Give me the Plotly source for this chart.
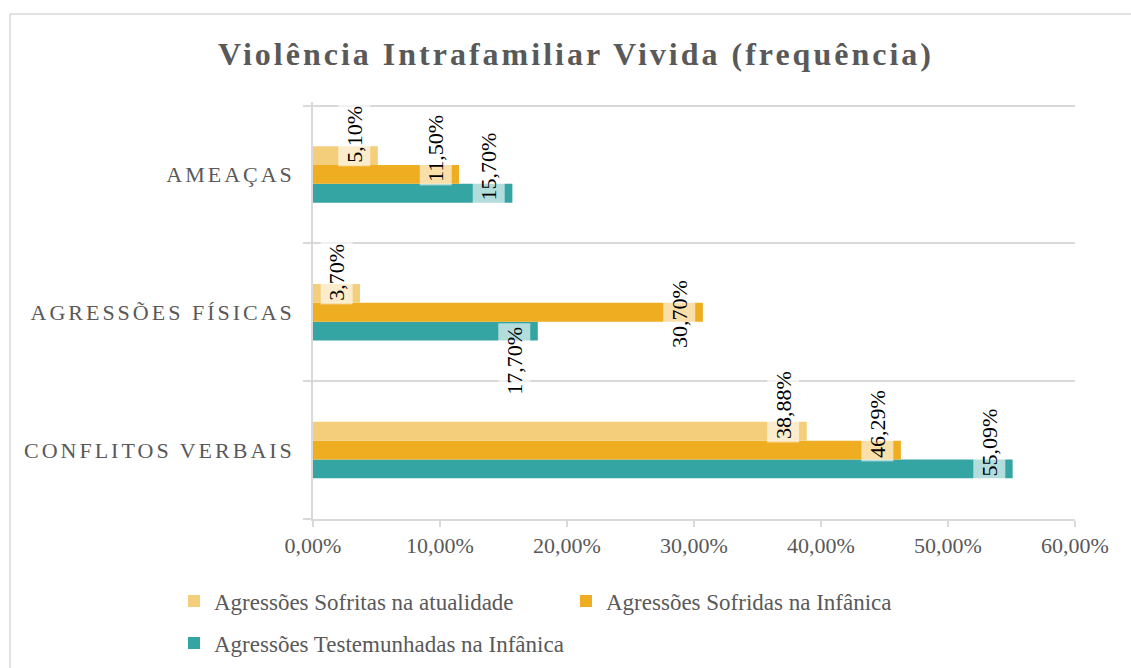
import plotly.graph_objects as go

# ---- data ----
categories = ["CONFLITOS VERBAIS", "AGRESSÕES FÍSICAS", "AMEAÇAS"]
series_names = [
    "Agressões Testemunhadas na Infânica",
    "Agressões Sofridas na Infânica",
    "Agressões Sofritas na atualidade",
]
testemunhadas_infancia = [55.09, 17.70, 15.70]
sofridas_infancia = [46.29, 30.70, 11.50]
sofridas_atualidade = [38.88, 3.70, 5.10]
x_ticks = [0, 10, 20, 30, 40, 50, 60]

# ---- style ----
colors = ["#35A5A3", "#EFAD21", "#F4CE7A"]
legend_rank = [3, 2, 1]
legend_ref = ["legend2", "legend", "legend"]
# extra downward nudge (px) of a few value labels, as in the original
label_nudge = [[0, 56, 0], [0, 28, 0], [0, 0, 0]]

W, H = 1131, 668
ML, MR, MT, MB = 313, 56, 102, 149
PW, PH = W - ML - MR, H - MT - MB
FONT = "Liberation Serif, Times New Roman, serif"
GREY = "#595959"
LINE = "#D9D9D9"
BARGAP = 0.59

series_values = [testemunhadas_infancia, sofridas_infancia, sofridas_atualidade]


def fmt(v):
    return f"{v:.2f}".replace(".", ",") + "%"


fig = go.Figure()
for k, (name, vals) in enumerate(zip(series_names, series_values)):
    fig.add_trace(go.Bar(
        y=categories, x=vals, name=name, orientation="h",
        marker=dict(color=colors[k], line=dict(width=0)),
        legendrank=legend_rank[k], legend=legend_ref[k],
        hoverinfo="skip",
    ))

# value labels (rotated, semi-transparent white box)
w = (1 - BARGAP) / 3
annotations = []
for k, vals in enumerate(series_values):
    for i, v in enumerate(vals):
        bottom = i - 1.5 * w + k * w
        annotations.append(dict(
            x=v, y=bottom, xref="x", yref="y",
            text=fmt(v), textangle=-90, showarrow=False,
            xanchor="right", yanchor="bottom", xshift=-7, yshift=-label_nudge[k][i] - 2,
            font=dict(family=FONT, size=22, color="#000000"),
            bgcolor="rgba(255,255,255,0.62)", borderpad=3,
        ))

# chart border
px = lambda p: (p - ML) / PW
py = lambda p: (H - MB - p) / PH
shapes = [dict(
    type="rect", xref="paper", yref="paper",
    x0=px(10), x1=px(W + 20), y0=py(H + 20), y1=py(14),
    line=dict(color=LINE, width=1.5), fillcolor="rgba(0,0,0,0)", layer="below",
)]

fig.update_layout(
    width=W, height=H,
    margin=dict(l=ML, r=MR, t=MT, b=MB, autoexpand=False),
    paper_bgcolor="white", plot_bgcolor="white",
    barmode="group", bargap=BARGAP, bargroupgap=0,
    title=dict(
        text="<b>Violência Intrafamiliar Vivida (frequência)</b>",
        x=576 / W, xanchor="center", y=1 - 54 / H, yanchor="middle",
        xref="container", yref="container",
        font=dict(family=FONT, size=32, color=GREY),
    ),
    xaxis=dict(
        range=[0, 60], tickvals=x_ticks, ticktext=[fmt(t) for t in x_ticks],
        showgrid=False, zeroline=False, showline=True, linecolor=LINE, linewidth=1.5,
        ticks="outside", ticklen=6, tickcolor=LINE, tickwidth=1.5,
        tickfont=dict(family=FONT, size=22, color=GREY),
    ),
    yaxis=dict(
        type="category", categoryorder="array", categoryarray=categories,
        tickson="boundaries", showgrid=True, gridcolor=LINE, gridwidth=1.5,
        showline=True, linecolor=LINE, linewidth=1.5,
        ticks="outside", ticklen=8, tickcolor=LINE, tickwidth=1.5,
        ticklabelstandoff=12,
        tickfont=dict(family=FONT, size=22, color=GREY),
    ),
    legend=dict(
        orientation="h", x=px(174), xanchor="left", y=py(601), yanchor="middle",
        font=dict(family=FONT, size=23, color=GREY),
        entrywidth=347, entrywidthmode="pixels", bgcolor="rgba(0,0,0,0)",
    ),
    legend2=dict(
        orientation="h", x=px(174), xanchor="left", y=py(643), yanchor="middle",
        font=dict(family=FONT, size=23, color=GREY), bgcolor="rgba(0,0,0,0)",
    ),
    annotations=annotations,
    shapes=shapes,
    showlegend=True,
)

post = """
document.body.style.margin='0';
var gd=document.getElementById('{plot_id}');
gd.querySelectorAll('.gtitle').forEach(function(e){e.style.letterSpacing='3px';});
gd.querySelectorAll('.ytick text').forEach(function(e){e.style.letterSpacing='3px';});
"""
fig.write_html("out.html", post_script=post, config={"displayModeBar": False})
